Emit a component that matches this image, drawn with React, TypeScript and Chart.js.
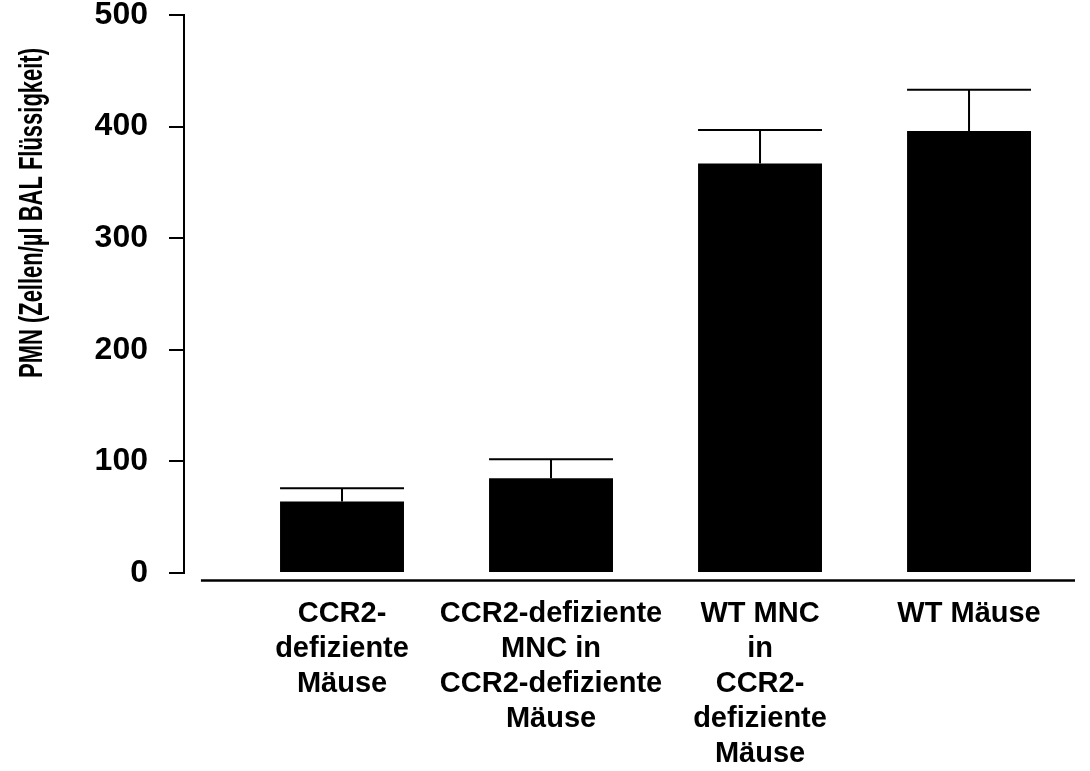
import React, { useEffect, useRef } from "react";
import { Chart, registerables } from "chart.js";

Chart.register(...registerables);

// ---- data ----
const categories: string[][] = [
  ["CCR2-", "defiziente", "Mäuse"],
  ["CCR2-defiziente", "MNC in", "CCR2-defiziente", "Mäuse"],
  ["WT MNC", "in", "CCR2-", "defiziente", "Mäuse"],
  ["WT Mäuse"],
];
const categoryPositions = [1, 2, 3, 4];
const pmnMeans = [64, 85, 367, 396];
const pmnErrors = [12, 17, 30, 37];
const yTicks = [0, 100, 200, 300, 400, 500];
const yTitle = "PMN (Zellen/µl BAL Flüssigkeit)";

const FONT = "'Liberation Sans', Arial, Helvetica, sans-serif";

const errorBarPlugin = {
  id: "errorBars",
  afterDatasetsDraw(chart: any) {
    const ctx = chart.ctx;
    const yScale = chart.scales.y;
    const meta = chart.getDatasetMeta(0);
    ctx.save();
    ctx.strokeStyle = "#000";
    ctx.lineWidth = 2;
    meta.data.forEach((el: any, i: number) => {
      const top = yScale.getPixelForValue(pmnMeans[i] + pmnErrors[i]);
      const half = el.width / 2;
      ctx.beginPath();
      ctx.moveTo(el.x, el.y);
      ctx.lineTo(el.x, top);
      ctx.moveTo(el.x - half, top);
      ctx.lineTo(el.x + half, top);
      ctx.stroke();
    });
    ctx.restore();
  },
};

const axisLinePlugin = {
  id: "xAxisLine",
  afterDraw(chart: any) {
    const ctx = chart.ctx;
    const xs = chart.scales.x;
    const ys = chart.scales.y;
    const y = ys.getPixelForValue(0) + 7.5;
    ctx.save();
    ctx.strokeStyle = "#000";
    ctx.lineWidth = 2.5;
    ctx.beginPath();
    ctx.moveTo(xs.getPixelForValue(0.325), y);
    ctx.lineTo(chart.chartArea.right, y);
    ctx.stroke();
    ctx.restore();
  },
};

const yTitlePlugin = {
  id: "yTitle",
  afterDraw(chart: any) {
    const ctx = chart.ctx;
    ctx.save();
    ctx.font = "bold 34px " + FONT;
    const w = ctx.measureText(yTitle).width;
    const targetLength = 330;
    ctx.translate(42, 213);
    ctx.rotate(-Math.PI / 2);
    ctx.scale(targetLength / w, 1);
    ctx.fillStyle = "#000";
    ctx.textAlign = "center";
    ctx.textBaseline = "alphabetic";
    ctx.fillText(yTitle, 0, 0);
    ctx.restore();
  },
};

export default function App() {
  const canvasRef = useRef<HTMLCanvasElement | null>(null);

  useEffect(() => {
    document.body.style.margin = "0";
    const canvas = canvasRef.current;
    if (!canvas) return;
    const chart = new Chart(canvas, {
      type: "bar",
      data: {
        datasets: [
          {
            data: pmnMeans.map((y, i) => ({ x: categoryPositions[i], y })),
            backgroundColor: "#000",
            borderWidth: 0,
            barPercentage: 0.593,
            categoryPercentage: 1,
          },
        ],
      },
      options: {
        animation: false,
        responsive: false,
        devicePixelRatio: 1,
        layout: { padding: { top: 15, right: 15, left: 0, bottom: 0 } },
        plugins: {
          legend: { display: false },
          tooltip: { enabled: false },
          title: { display: false },
        },
        scales: {
          x: {
            type: "linear",
            offset: false,
            min: 0.244,
            max: 4.507,
            afterBuildTicks: (scale: any) => {
              scale.ticks = categoryPositions.map((v) => ({ value: v }));
            },
            afterFit: (scale: any) => {
              scale.height = 198;
              scale.paddingLeft = 0;
              scale.paddingRight = 0;
            },
            grid: { display: false },
            border: { display: false },
            ticks: {
              autoSkip: false,
              maxRotation: 0,
              minRotation: 0,
              padding: 15,
              color: "#000",
              font: { family: FONT, size: 29, weight: "bold", lineHeight: 1.21 },
              callback: (v: any) => {
                const idx = categoryPositions.indexOf(Number(v));
                return idx >= 0 ? categories[idx] : "";
              },
            },
          },
          y: {
            min: 0,
            max: 500,
            afterBuildTicks: (scale: any) => {
              scale.ticks = yTicks.map((v) => ({ value: v }));
            },
            afterFit: (scale: any) => {
              scale.width = 184;
              scale.paddingTop = 0;
              scale.paddingBottom = 0;
            },
            grid: {
              drawOnChartArea: false,
              drawTicks: true,
              tickLength: 15,
              color: "#000",
              lineWidth: 2,
            },
            border: { display: true, color: "#000", width: 2 },
            ticks: {
              padding: 21,
              color: "#000",
              font: { family: FONT, size: 32, weight: "bold", lineHeight: 1 },
            },
          },
        },
      },
      plugins: [errorBarPlugin, axisLinePlugin, yTitlePlugin],
    } as any);
    return () => chart.destroy();
  }, []);

  return (
    <div style={{ width: 1090, height: 771, position: "relative", background: "#fff" }}>
      <canvas ref={canvasRef} width={1090} height={771} />
    </div>
  );
}
